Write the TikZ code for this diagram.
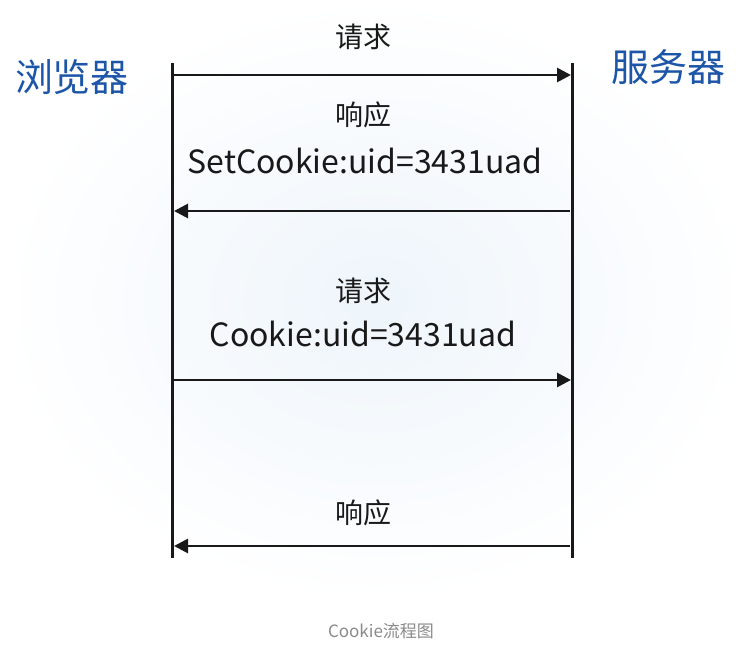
\documentclass[tikz,border=0pt]{standalone}
\usepackage{fontspec}
\setmainfont{Noto Sans CJK SC}
\usetikzlibrary{arrows.meta}
\definecolor{titleblue}{HTML}{1D56A8}
\definecolor{capgray}{HTML}{8A8A8A}
\definecolor{bgblue}{HTML}{EEF5FB}
\tikzset{
  lifeline/.style={line width=3pt, black!90},
  msg/.style={line width=2.8pt, black!90, -{Triangle[length=14pt,width=14pt]}},
  lbl/.style={font=\fontsize{28}{32}\selectfont, inner sep=0pt, text=black!90},
  code/.style={font=\fontsize{32}{36}\selectfont, inner sep=0pt, text=black!90},
  party/.style={font=\fontsize{38}{42}\selectfont, inner sep=0pt, text=titleblue},
  captext/.style={font=\fontsize{17}{20}\selectfont, inner sep=0pt, text=capgray}
}
\begin{document}
\begin{tikzpicture}[x=1pt,y=-1pt]
\useasboundingbox (0,0) rectangle (750,654);
\fill[white] (0,0) rectangle (750,654);
\shade[inner color=bgblue, outer color=white, draw=none] (0,0) rectangle (750,600);
% lifelines
\coordinate (bt) at (172,63); \coordinate (bb) at (172,558);
\coordinate (st) at (572,63); \coordinate (sb) at (572,558);
\draw[lifeline] (bt) -- (bb);
\draw[lifeline] (st) -- (sb);
% message endpoints
\coordinate (a1) at (174,75);  \coordinate (b1) at (571,75);
\coordinate (a2) at (570,211); \coordinate (b2) at (174,211);
\coordinate (a3) at (174,380); \coordinate (b3) at (571,380);
\coordinate (a4) at (570,546); \coordinate (b4) at (174,546);
\draw[msg] (a1) -- (b1);
\draw[msg] (a2) -- (b2);
\draw[msg] (a3) -- (b3);
\draw[msg] (a4) -- (b4);
% labels
\node[party] (browser) at (72,77) {浏览器};
\node[party] (server) at (668,67) {服务器};
\node[lbl] (req1) at (363,37) {请求};
\node[lbl] (resp1) at (363,115) {响应};
\node[code] (setc) at (365,161) {SetCookie:uid=3431uad};
\node[lbl] (req2) at (363,291) {请求};
\node[code] (cook) at (363,334) {Cookie:uid=3431uad};
\node[lbl] (resp2) at (363,513) {响应};
\node[captext] (caption) at (381,631) {Cookie流程图};
\end{tikzpicture}
\end{document}
